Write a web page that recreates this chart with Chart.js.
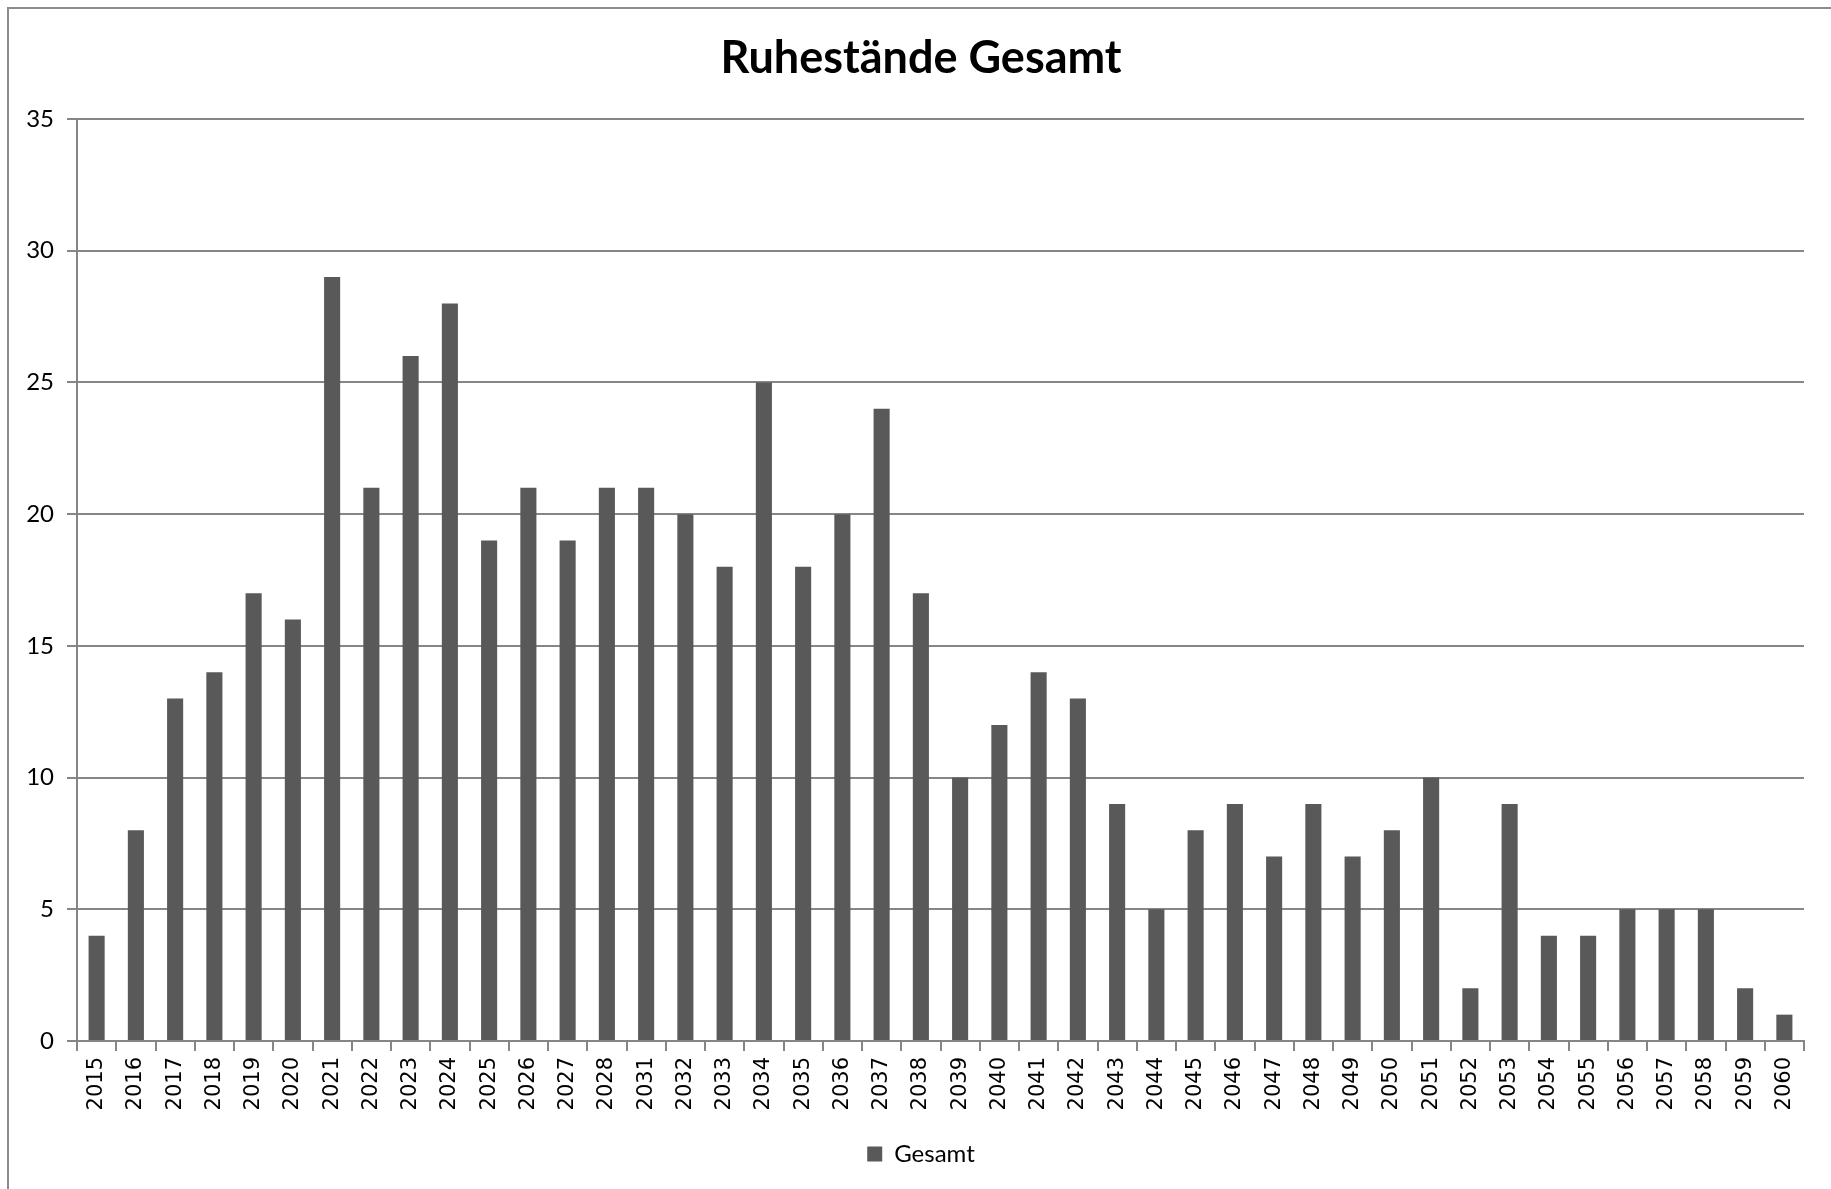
<!DOCTYPE html>
<html>
<head>
<meta charset="utf-8">
<script src="https://cdn.jsdelivr.net/npm/chart.js@4"></script>
<style>
  html, body { margin: 0; padding: 0; background: #fff; overflow: hidden; }
  #frame { position: absolute; left: 7px; top: 7px; width: 1840px; height: 1200px;
           border-left: 2px solid #8c8c8c; border-top: 2px solid #8c8c8c; }
  canvas { position: absolute; left: 0; top: 0; }
</style>
</head>
<body>
<div id="frame"></div>
<canvas id="chart" width="1831" height="1189"></canvas>
<script>
const YEARS = ['2015', '2016', '2017', '2018', '2019', '2020', '2021', '2022', '2023', '2024',
  '2025', '2026', '2027', '2028', '2031', '2032', '2033', '2034', '2035', '2036', '2037',
  '2038', '2039', '2040', '2041', '2042', '2043', '2044', '2045', '2046', '2047', '2048',
  '2049', '2050', '2051', '2052', '2053', '2054', '2055', '2056', '2057', '2058', '2059', '2060'];
const GESAMT = [4, 8, 13, 14, 17, 16, 29, 21, 26, 28,
  19, 21, 19, 21, 21, 20, 18, 25, 18, 20, 24,
  17, 10, 12, 14, 13, 9, 5, 8, 9, 7, 9,
  7, 8, 10, 2, 9, 4, 4, 5, 5, 5, 2, 1];
const Y_MIN = 0, Y_MAX = 35, Y_STEP = 5;

const GRID = '#868686';
const BAR = '#595959';

// title and legend sit a bit right of the canvas centre in the original
const shiftHeaders = {
  id: 'shiftHeaders',
  afterLayout(chart) {
    if (chart.titleBlock) chart.titleBlock.left = 38;
    if (chart.legend) chart.legend.left = 38;
  }
};

new Chart(document.getElementById('chart'), {
  type: 'bar',
  data: {
    labels: YEARS,
    datasets: [{ label: 'Gesamt', data: GESAMT, backgroundColor: BAR, borderWidth: 0,
      barPercentage: 0.41, categoryPercentage: 1 }]
  },
  options: {
    responsive: false,
    animation: false,
    layout: { padding: { left: 8, right: 27, top: 18, bottom: 13 } },
    plugins: {
      title: { display: true, text: 'Ruhestände Gesamt', color: '#000',
        font: { family: 'Lato', size: 45, weight: 'bold' }, padding: { top: 13, bottom: 34 } },
      legend: { position: 'bottom',
        labels: { color: '#000', font: { family: 'Lato', size: 24 }, boxWidth: 15, boxHeight: 15, padding: 10 } },
      tooltip: { enabled: false }
    },
    scales: {
      x: {
        offset: true,
        grid: { offset: true, drawOnChartArea: false, drawTicks: true, tickLength: 10, color: GRID, lineWidth: 2 },
        border: { color: GRID, width: 2 },
        ticks: { color: '#000', font: { family: 'DejaVu Sans', size: 21 }, minRotation: 90, maxRotation: 90, autoSkip: false, padding: 6 },
        afterFit: s => { s.height = 91; }
      },
      y: {
        min: Y_MIN, max: Y_MAX,
        grid: { color: GRID, lineWidth: 2, tickLength: 10 },
        border: { color: GRID, width: 2 },
        ticks: { stepSize: Y_STEP, color: '#000', font: { family: 'Lato', size: 24 }, padding: 13 },
        afterFit: s => { s.width = 69; }
      }
    }
  },
  plugins: [shiftHeaders]
});
</script>
</body>
</html>
